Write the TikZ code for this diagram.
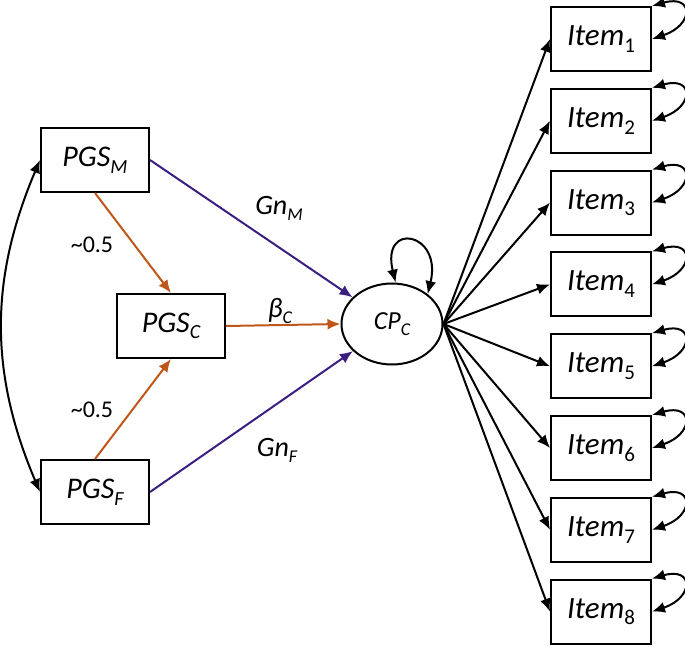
\documentclass[tikz,border=0pt]{standalone}
\usepackage{fontspec}
\setmainfont{Carlito}
\usetikzlibrary{arrows.meta,shapes.geometric,positioning}
\definecolor{gnline}{HTML}{3A1E82}
\definecolor{pgsline}{HTML}{C0571A}
\newcommand{\lowsub}[2][20]{\raisebox{-0.22em}{\fontsize{#1}{#1}\selectfont #2}}

\begin{document}
\begin{tikzpicture}[x=1pt,y=1pt,>={Latex[length=13pt,width=11pt]},line width=2pt,
    box/.style={draw,minimum width=108pt,minimum height=64pt,inner sep=0pt,font=\fontsize{30}{34}\selectfont\itshape},
    itembox/.style={box,minimum width=100pt,font=\fontsize{31}{34}\selectfont\itshape},
    latent/.style={draw,ellipse,minimum width=101pt,minimum height=81pt,inner sep=0pt,font=\fontsize{26}{30}\selectfont\itshape},
    lbl/.style={font=\fontsize{24}{28}\selectfont},
    ilbl/.style={font=\fontsize{28}{32}\selectfont\itshape},
    gn/.style={->,gnline},
    pgs/.style={->,pgsline}]
    \useasboundingbox (0,0) rectangle (685,646);
    \node[box] (PGSM) at (95,486) {PGS\lowsub{M}};
    \node[box] (PGSC) at (171,320) {PGS\lowsub{C}};
    \node[box] (PGSF) at (95,154) {PGS\lowsub{F}};
    \node[latent] (CP) at (392,322) {CP\lowsub[18]{C}};
    \foreach \i in {1,...,8}
        \node[itembox] (item\i) at (601,{607-81.8*(\i-1)}) {Item\lowsub[21]{\upshape\i}};
    % labels
    \node[ilbl] (gnM) at (279,438) {Gn\lowsub[18]{M}};
    \node[ilbl] (gnF) at (277,196) {Gn\lowsub[18]{F}};
    \node[ilbl] (betaC) at (280,335) {β\lowsub[18]{C}};
    \node[lbl] (wM) at (92,401) {\textasciitilde0.5};
    \node[lbl] (wF) at (92,236) {\textasciitilde0.5};
    % paths
    \draw[pgs] (PGSM.south) -- (PGSC.north);
    \draw[pgs] (PGSF.north) -- (PGSC.south);
    \draw[pgs] (PGSC.east) -- (CP.west);
    \draw[gn] (PGSM.east) -- (CP);
    \draw[gn] (PGSF.east) -- (CP);
    \draw[<->] (PGSM.west) to[bend right=23] (PGSF.west);
    \draw[<->] (CP.85) .. controls +(-15,62) and +(15,62) .. (CP.40);
    \foreach \i in {1,...,8} {
        \draw[->] (CP.east) -- (item\i.west);
        \draw[<->] (item\i.north east) .. controls +(42,12) and +(42,14) .. (item\i.east);
    }
\end{tikzpicture}
\end{document}
